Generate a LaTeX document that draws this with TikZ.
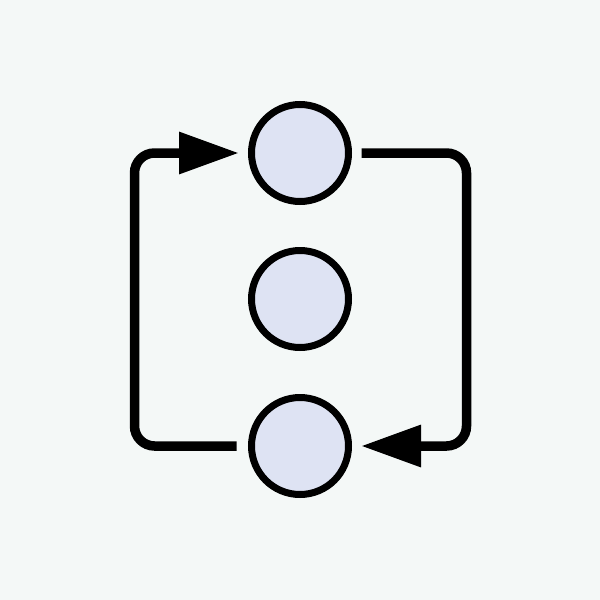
\documentclass[tikz,border=0pt]{standalone}
\usetikzlibrary{arrows.meta}
\definecolor{bgc}{RGB}{244,248,247}
\definecolor{dotfill}{RGB}{222,227,243}
\begin{document}
\begin{tikzpicture}[x=1pt,y=-1pt,
  dot/.style={circle,draw=black,line width=7pt,fill=dotfill,minimum size=97pt,inner sep=0pt},
  conn/.style={draw=black,line width=9.5pt,rounded corners=20pt,-{Triangle[length=60pt,width=40pt]}}]
\fill[bgc] (0,0) rectangle (600,600);
\useasboundingbox (0,0) rectangle (600,600);
\node[dot] (t) at (300,153) {};
\node[dot] (m) at (300,299) {};
\node[dot] (b) at (300,446) {};
\draw[conn] ([xshift=-11.5pt]b.west) -- ++(-102,0) |- ([xshift=-9pt]t.west);
\draw[conn] ([xshift=9.5pt]t.east) -- ++(105,0) |- ([xshift=9pt]b.east);
\end{tikzpicture}
\end{document}
